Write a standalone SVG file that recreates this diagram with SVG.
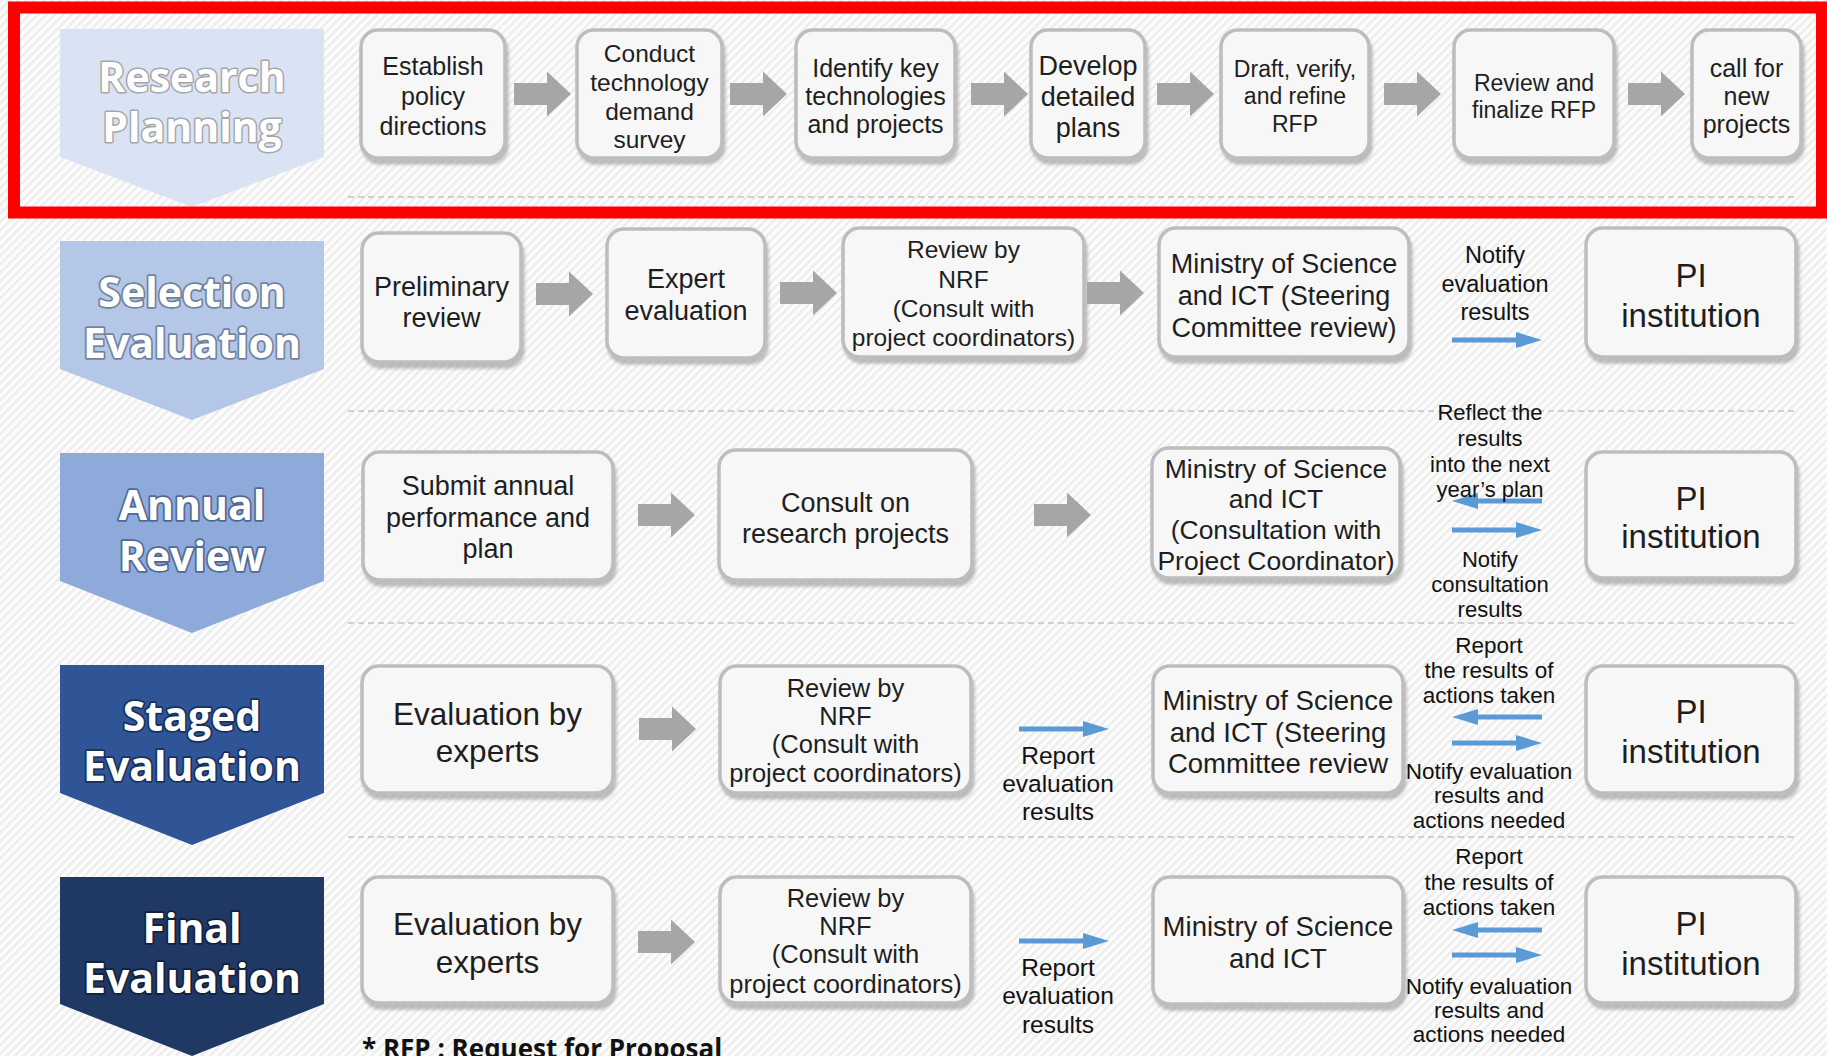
<svg xmlns="http://www.w3.org/2000/svg" width="1827" height="1056" viewBox="0 0 1827 1056">
  <defs>
    <pattern id="hatch" width="6" height="6" patternUnits="userSpaceOnUse" patternTransform="rotate(45)">
      <rect width="6" height="6" fill="#fcfcfc"/>
      <rect x="0" y="0" width="2.2" height="6" fill="#ececec"/>
    </pattern>
    <filter id="boxShadow" x="-10%" y="-10%" width="125%" height="130%">
      <feDropShadow dx="2" dy="5" stdDeviation="1.4" flood-color="#8c8c8c" flood-opacity="0.55"/>
    </filter>
    <path id="grayArrow" d="M0,-11 H33 V-22.5 L57,0 L33,22.5 V11 H0 Z"/>
    <path id="blueArrow" d="M0,-2.6 H64 V-8 L90,0 L64,8 V2.6 H0 Z"/>
  </defs>
  <style>
    .box { fill: #f7f7f7; stroke: #bdbdbd; stroke-width: 3.5; filter: url(#boxShadow); }
    .t { font-family: "Liberation Sans", Arial, sans-serif; fill: #1e1e1e; text-anchor: middle; }
    .lbl { font-family: "Liberation Sans", Arial, sans-serif; fill: #111111; text-anchor: middle; }
    .stage { font-family: "Open Sans", "Noto Sans", sans-serif; font-weight: 700; font-size: 41px; fill: #ffffff; text-anchor: middle; paint-order: stroke; stroke-linejoin: round; }
    .gray { fill: #a6a6a6; }
    .blue { fill: #5b9bd5; }
    .sep { stroke: #c4c4c4; stroke-width: 1.5; stroke-dasharray: 6 4; fill: none; }
  </style>

  <!-- background -->
  <rect width="1827" height="1056" fill="url(#hatch)"/>

  <!-- row separators -->
  <g id="separators">
    <line class="sep" x1="348" y1="197" x2="1796" y2="197"/>
    <line class="sep" x1="348" y1="411" x2="1796" y2="411"/>
    <line class="sep" x1="348" y1="623" x2="1796" y2="623"/>
    <line class="sep" x1="348" y1="837" x2="1796" y2="837"/>
  </g>

  <!-- stage banners -->
  <g id="stage-research-planning">
    <polygon points="60,29 324,29 324,157 192,207 60,157" fill="#dae3f3"/>
    <text class="stage" stroke="#8a8a8a" stroke-width="3" stroke-opacity="0.7"><tspan x="192" y="92">Research</tspan><tspan x="192" y="142">Planning</tspan></text>
  </g>
  <g id="stage-selection-evaluation">
    <polygon points="60,241 324,241 324,369 192,420 60,369" fill="#b4c7e7"/>
    <text class="stage" stroke="#5f6f8c" stroke-width="3.5" stroke-opacity="0.8"><tspan x="192" y="307">Selection</tspan><tspan x="192" y="358">Evaluation</tspan></text>
  </g>
  <g id="stage-annual-review">
    <polygon points="60,453 324,453 324,581 192,633 60,581" fill="#8eaadb"/>
    <text class="stage" stroke="#3f5580" stroke-width="3.5" stroke-opacity="0.8"><tspan x="192" y="520">Annual</tspan><tspan x="192" y="571">Review</tspan></text>
  </g>
  <g id="stage-staged-evaluation">
    <polygon points="60,665 324,665 324,793 192,845 60,793" fill="#2f5597"/>
    <text class="stage" stroke="#14264a" stroke-width="3.5" stroke-opacity="0.8"><tspan x="192" y="731">Staged</tspan><tspan x="192" y="781">Evaluation</tspan></text>
  </g>
  <g id="stage-final-evaluation">
    <polygon points="60,877 324,877 324,1004 192,1056 60,1004" fill="#203864"/>
    <text class="stage" stroke="#0e1a30" stroke-width="3.5" stroke-opacity="0.8"><tspan x="192" y="943">Final</tspan><tspan x="192" y="993">Evaluation</tspan></text>
  </g>

  <!-- research planning steps -->
  <g id="rp-establish">
    <rect class="box" x="361" y="30" width="144" height="128" rx="17"/>
    <text class="t" font-size="25" x="433" y="75">Establish</text>
    <text class="t" font-size="25" x="433" y="105">policy</text>
    <text class="t" font-size="25" x="433" y="135">directions</text>
  </g>
  <g id="rp-survey">
    <rect class="box" x="577" y="30" width="145" height="128" rx="17"/>
    <text class="t" font-size="24.5" x="649.5" y="62">Conduct</text>
    <text class="t" font-size="24.5" x="649.5" y="91">technology</text>
    <text class="t" font-size="24.5" x="649.5" y="120">demand</text>
    <text class="t" font-size="24.5" x="649.5" y="148">survey</text>
  </g>
  <g id="rp-identify">
    <rect class="box" x="796" y="30" width="159" height="128" rx="17"/>
    <text class="t" font-size="25" x="875.5" y="77">Identify key</text>
    <text class="t" font-size="25" x="875.5" y="105">technologies</text>
    <text class="t" font-size="25" x="875.5" y="133">and projects</text>
  </g>
  <g id="rp-develop">
    <rect class="box" x="1031" y="30" width="114" height="128" rx="17"/>
    <text class="t" font-size="27" x="1088" y="75">Develop</text>
    <text class="t" font-size="27" x="1088" y="106">detailed</text>
    <text class="t" font-size="27" x="1088" y="137">plans</text>
  </g>
  <g id="rp-draft">
    <rect class="box" x="1221" y="30" width="148" height="128" rx="17"/>
    <text class="t" font-size="23" x="1295" y="77">Draft, verify,</text>
    <text class="t" font-size="23" x="1295" y="104">and refine</text>
    <text class="t" font-size="23" x="1295" y="132">RFP</text>
  </g>
  <g id="rp-finalize">
    <rect class="box" x="1454" y="30" width="160" height="128" rx="17"/>
    <text class="t" font-size="23" x="1534" y="91">Review and</text>
    <text class="t" font-size="23" x="1534" y="118">finalize RFP</text>
  </g>
  <g id="rp-call">
    <rect class="box" x="1692" y="30" width="109" height="128" rx="17"/>
    <text class="t" font-size="25" x="1746.5" y="77">call for</text>
    <text class="t" font-size="25" x="1746.5" y="105">new</text>
    <text class="t" font-size="25" x="1746.5" y="133">projects</text>
  </g>

  <!-- selection evaluation steps -->
  <g id="se-preliminary">
    <rect class="box" x="362" y="233" width="159" height="129" rx="17"/>
    <text class="t" font-size="27" x="441.5" y="296">Preliminary</text>
    <text class="t" font-size="27" x="441.5" y="327">review</text>
  </g>
  <g id="se-expert">
    <rect class="box" x="607" y="229" width="158" height="129" rx="17"/>
    <text class="t" font-size="27" x="686" y="288">Expert</text>
    <text class="t" font-size="27" x="686" y="320">evaluation</text>
  </g>
  <g id="se-nrf">
    <rect class="box" x="843" y="228" width="241" height="129" rx="17"/>
    <text class="t" font-size="24.5" x="963.5" y="258">Review by</text>
    <text class="t" font-size="24.5" x="963.5" y="287.5">NRF</text>
    <text class="t" font-size="24.5" x="963.5" y="316.5">(Consult with</text>
    <text class="t" font-size="24.5" x="963.5" y="345.5">project coordinators)</text>
  </g>
  <g id="se-ministry">
    <rect class="box" x="1159" y="228" width="250" height="129" rx="17"/>
    <text class="t" font-size="27" x="1284" y="273">Ministry of Science</text>
    <text class="t" font-size="27" x="1284" y="305">and ICT (Steering</text>
    <text class="t" font-size="27" x="1284" y="337">Committee review)</text>
  </g>
  <g id="se-pi">
    <rect class="box" x="1586" y="228" width="210" height="129" rx="17"/>
    <text class="t" font-size="33" x="1691" y="287">PI</text>
    <text class="t" font-size="33" x="1691" y="327">institution</text>
  </g>

  <!-- annual review steps -->
  <g id="ar-submit">
    <rect class="box" x="363" y="452" width="250" height="128" rx="17"/>
    <text class="t" font-size="27" x="488" y="495">Submit annual</text>
    <text class="t" font-size="27" x="488" y="527">performance and</text>
    <text class="t" font-size="27" x="488" y="558">plan</text>
  </g>
  <g id="ar-consult">
    <rect class="box" x="719" y="450" width="253" height="130" rx="17"/>
    <text class="t" font-size="27" x="845.5" y="512">Consult on</text>
    <text class="t" font-size="27" x="845.5" y="543">research projects</text>
  </g>
  <g id="ar-ministry">
    <rect class="box" x="1152" y="448" width="248" height="130" rx="17"/>
    <text class="t" font-size="26.5" x="1276" y="478">Ministry of Science</text>
    <text class="t" font-size="26.5" x="1276" y="508">and ICT</text>
    <text class="t" font-size="26.5" x="1276" y="539">(Consultation with</text>
    <text class="t" font-size="26.5" x="1276" y="570">Project Coordinator)</text>
  </g>
  <g id="ar-pi">
    <rect class="box" x="1586" y="452" width="210" height="126" rx="17"/>
    <text class="t" font-size="33" x="1691" y="510">PI</text>
    <text class="t" font-size="33" x="1691" y="548">institution</text>
  </g>

  <!-- staged evaluation steps -->
  <g id="st-experts">
    <rect class="box" x="362" y="666" width="251" height="127" rx="17"/>
    <text class="t" font-size="31.5" x="487.5" y="725">Evaluation by</text>
    <text class="t" font-size="31.5" x="487.5" y="762">experts</text>
  </g>
  <g id="st-nrf">
    <rect class="box" x="720" y="666" width="251" height="127" rx="17"/>
    <text class="t" font-size="25.5" x="845.5" y="697">Review by</text>
    <text class="t" font-size="25.5" x="845.5" y="725">NRF</text>
    <text class="t" font-size="25.5" x="845.5" y="753">(Consult with</text>
    <text class="t" font-size="25.5" x="845.5" y="782">project coordinators)</text>
  </g>
  <g id="st-ministry">
    <rect class="box" x="1153" y="666" width="250" height="127" rx="17"/>
    <text class="t" font-size="27.5" x="1278" y="710">Ministry of Science</text>
    <text class="t" font-size="27.5" x="1278" y="742">and ICT (Steering</text>
    <text class="t" font-size="27.5" x="1278" y="773">Committee review</text>
  </g>
  <g id="st-pi">
    <rect class="box" x="1586" y="666" width="210" height="127" rx="17"/>
    <text class="t" font-size="33" x="1691" y="723">PI</text>
    <text class="t" font-size="33" x="1691" y="763">institution</text>
  </g>

  <!-- final evaluation steps -->
  <g id="fe-experts">
    <rect class="box" x="362" y="877" width="251" height="126" rx="17"/>
    <text class="t" font-size="31.5" x="487.5" y="935">Evaluation by</text>
    <text class="t" font-size="31.5" x="487.5" y="973">experts</text>
  </g>
  <g id="fe-nrf">
    <rect class="box" x="720" y="877" width="251" height="126" rx="17"/>
    <text class="t" font-size="25.5" x="845.5" y="907">Review by</text>
    <text class="t" font-size="25.5" x="845.5" y="935">NRF</text>
    <text class="t" font-size="25.5" x="845.5" y="963">(Consult with</text>
    <text class="t" font-size="25.5" x="845.5" y="993">project coordinators)</text>
  </g>
  <g id="fe-ministry">
    <rect class="box" x="1153" y="877" width="250" height="127" rx="17"/>
    <text class="t" font-size="27.5" x="1278" y="936">Ministry of Science</text>
    <text class="t" font-size="27.5" x="1278" y="968">and ICT</text>
  </g>
  <g id="fe-pi">
    <rect class="box" x="1586" y="877" width="210" height="126" rx="17"/>
    <text class="t" font-size="33" x="1691" y="935">PI</text>
    <text class="t" font-size="33" x="1691" y="975">institution</text>
  </g>

  <!-- connectors -->
  <g id="connectors">
    <!-- research planning flow -->
    <use href="#grayArrow" class="gray" transform="translate(514,94)"/>
    <use href="#grayArrow" class="gray" transform="translate(730,94)"/>
    <use href="#grayArrow" class="gray" transform="translate(971,94)"/>
    <use href="#grayArrow" class="gray" transform="translate(1157,94)"/>
    <use href="#grayArrow" class="gray" transform="translate(1384,94)"/>
    <use href="#grayArrow" class="gray" transform="translate(1628,94)"/>
    <!-- selection evaluation flow -->
    <use href="#grayArrow" class="gray" transform="translate(536,294)"/>
    <use href="#grayArrow" class="gray" transform="translate(780,293)"/>
    <use href="#grayArrow" class="gray" transform="translate(1087,293)"/>
    <use href="#blueArrow" class="blue" transform="translate(1452,340)"/>
    <!-- annual review flow -->
    <use href="#grayArrow" class="gray" transform="translate(638,515)"/>
    <use href="#grayArrow" class="gray" transform="translate(1034,515)"/>
    <use href="#blueArrow" class="blue" transform="translate(1542,501) scale(-1,1)"/>
    <use href="#blueArrow" class="blue" transform="translate(1452,530)"/>
    <!-- staged evaluation flow -->
    <use href="#grayArrow" class="gray" transform="translate(639,729)"/>
    <use href="#blueArrow" class="blue" transform="translate(1019,729)"/>
    <use href="#blueArrow" class="blue" transform="translate(1542,717) scale(-1,1)"/>
    <use href="#blueArrow" class="blue" transform="translate(1452,743)"/>
    <!-- final evaluation flow -->
    <use href="#grayArrow" class="gray" transform="translate(638,942)"/>
    <use href="#blueArrow" class="blue" transform="translate(1019,941)"/>
    <use href="#blueArrow" class="blue" transform="translate(1542,930) scale(-1,1)"/>
    <use href="#blueArrow" class="blue" transform="translate(1452,955)"/>
  </g>

  <!-- connector labels -->
  <g id="connector-labels">
    <text class="lbl" font-size="23.5" x="1495" y="263">Notify</text>
    <text class="lbl" font-size="23.5" x="1495" y="292">evaluation</text>
    <text class="lbl" font-size="23.5" x="1495" y="320">results</text>

    <text class="lbl" font-size="22" x="1490" y="420">Reflect the</text>
    <text class="lbl" font-size="22" x="1490" y="446">results</text>
    <text class="lbl" font-size="22" x="1490" y="472">into the next</text>
    <text class="lbl" font-size="22" x="1490" y="497">year’s plan</text>
    <text class="lbl" font-size="22" x="1490" y="567">Notify</text>
    <text class="lbl" font-size="22" x="1490" y="592">consultation</text>
    <text class="lbl" font-size="22" x="1490" y="617">results</text>

    <text class="lbl" font-size="24.5" x="1058" y="764">Report</text>
    <text class="lbl" font-size="24.5" x="1058" y="792">evaluation</text>
    <text class="lbl" font-size="24.5" x="1058" y="820">results</text>
    <text class="lbl" font-size="22.5" x="1489" y="653">Report</text>
    <text class="lbl" font-size="22.5" x="1489" y="678">the results of</text>
    <text class="lbl" font-size="22.5" x="1489" y="703">actions taken</text>
    <text class="lbl" font-size="22.5" x="1489" y="779">Notify evaluation</text>
    <text class="lbl" font-size="22.5" x="1489" y="803">results and</text>
    <text class="lbl" font-size="22.5" x="1489" y="828">actions needed</text>

    <text class="lbl" font-size="24.5" x="1058" y="976">Report</text>
    <text class="lbl" font-size="24.5" x="1058" y="1004">evaluation</text>
    <text class="lbl" font-size="24.5" x="1058" y="1033">results</text>
    <text class="lbl" font-size="22.5" x="1489" y="864">Report</text>
    <text class="lbl" font-size="22.5" x="1489" y="890">the results of</text>
    <text class="lbl" font-size="22.5" x="1489" y="915">actions taken</text>
    <text class="lbl" font-size="22.5" x="1489" y="994">Notify evaluation</text>
    <text class="lbl" font-size="22.5" x="1489" y="1018">results and</text>
    <text class="lbl" font-size="22.5" x="1489" y="1042">actions needed</text>
  </g>

  <!-- footnote -->
  <text x="362" y="1058" font-family="'Open Sans', 'Noto Sans', sans-serif" font-weight="700" font-size="26" fill="#111111">* RFP : Request for Proposal</text>

  <!-- highlight frame around the planning stage -->
  <rect x="14" y="7.5" width="1808" height="205" fill="none" stroke="#ff0000" stroke-width="12"/>
</svg>
